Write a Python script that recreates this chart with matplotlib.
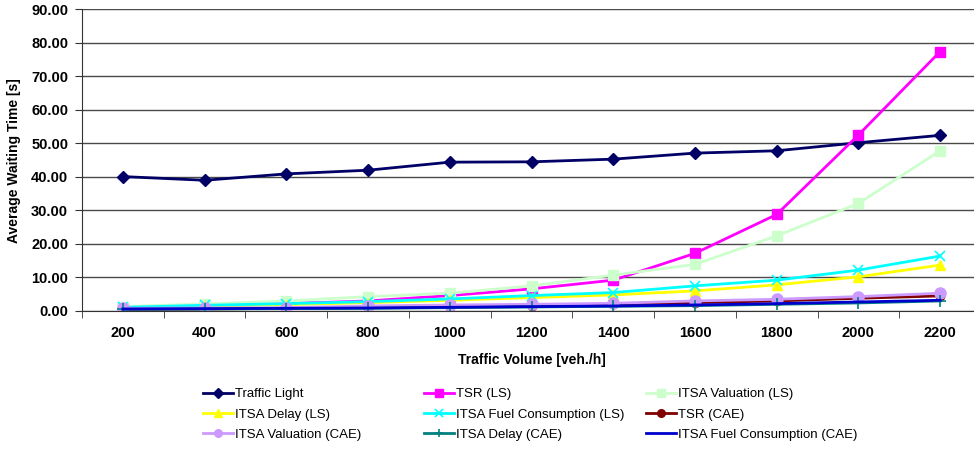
import numpy as np
import matplotlib.pyplot as plt

plt.rcParams['font.family'] = ['Liberation Sans', 'DejaVu Sans']

# traffic volumes on the category axis
volumes = ['200', '400', '600', '800', '1000', '1200', '1400', '1600', '1800', '2000', '2200']

# average waiting time [s] per strategy
traffic_light = [40.1, 39.0, 40.9, 42.0, 44.4, 44.5, 45.3, 47.1, 47.8, 50.2, 52.4]
tsr_ls = [1.0, 1.5, 2.2, 3.0, 4.6, 6.6, 9.2, 17.2, 28.8, 52.5, 77.4]
itsa_val_ls = [1.3, 2.1, 3.0, 4.3, 5.3, 7.5, 10.7, 13.9, 22.4, 32.1, 47.8]
itsa_delay_ls = [0.9, 1.4, 1.9, 2.5, 3.2, 4.0, 4.8, 6.0, 7.8, 10.2, 13.7]
itsa_fuel_ls = [1.1, 1.7, 2.2, 2.8, 3.6, 4.6, 5.5, 7.5, 9.2, 12.2, 16.4]
tsr_cae = [0.5, 0.6, 0.8, 1.0, 1.3, 1.6, 2.0, 2.5, 3.0, 3.8, 4.5]
itsa_val_cae = [0.8, 0.9, 1.0, 1.5, 1.8, 2.0, 2.3, 3.0, 3.5, 4.3, 5.3]
itsa_delay_cae = [0.5, 0.6, 0.7, 0.8, 1.0, 1.2, 1.4, 1.6, 2.0, 2.4, 3.0]
itsa_fuel_cae = [0.6, 0.7, 0.8, 0.9, 1.1, 1.3, 1.5, 1.8, 2.2, 2.7, 3.2]

fig = plt.figure(figsize=(9.74, 4.49), dpi=100)
ax = fig.add_axes([82/974, 138/449, 899/974, 301.7/449])

x = np.arange(len(volumes))

series = [
    ('Traffic Light', traffic_light, '#000066', 'D', 6, 2.0),
    ('TSR (LS)', tsr_ls, '#ff00ff', 's', 7, 2.0),
    ('ITSA Valuation (LS)', itsa_val_ls, '#ccffcc', 's', 7, 2.0),
    ('ITSA Delay (LS)', itsa_delay_ls, '#ffff00', '^', 7, 2.0),
    ('ITSA Fuel Consumption (LS)', itsa_fuel_ls, '#00ffff', 'x', 7, 2.0),
    ('TSR (CAE)', tsr_cae, '#800000', 'o', 6, 2.0),
    ('ITSA Valuation (CAE)', itsa_val_cae, '#cc99ff', 'o', 8, 2.0),
    ('ITSA Delay (CAE)', itsa_delay_cae, '#008080', '+', 8, 2.0),
    ('ITSA Fuel Consumption (CAE)', itsa_fuel_cae, '#0000cc', None, 0, 2.0),
]

handles = {}
for name, vals, col, mk, ms, lw in series:
    h, = ax.plot(x, vals, color=col, marker=mk, markersize=ms, linewidth=lw,
                 markeredgecolor=col, markerfacecolor=col, label=name,
                 markeredgewidth=1.2 if mk in ('x', '+') else 1.0)
    handles[name] = h

ax.set_xlim(-0.5, len(volumes) - 0.5)
ax.set_ylim(0, 90)
ax.set_yticks(np.arange(0, 91, 10))
ax.set_yticklabels([f'{v:.2f}' for v in np.arange(0, 91, 10)])
ax.set_xticks(x)
ax.set_xticklabels(volumes)
ax.set_xticks(np.arange(-0.5, len(volumes), 1), minor=True)
ax.tick_params(axis='x', which='major', length=0, pad=11)
ax.tick_params(axis='x', which='minor', length=5, direction='out', color='#333333')
ax.tick_params(axis='y', length=5, direction='out', color='#333333', pad=5)
for lab in ax.get_xticklabels() + ax.get_yticklabels():
    lab.set_fontsize(10.5)
    lab.set_fontweight('bold')

ax.grid(axis='y', color='#4a4a4a', linewidth=1.0)
ax.set_axisbelow(True)
for side in ('top', 'right'):
    ax.spines[side].set_visible(False)
ax.spines['left'].set_color('#333333')
ax.spines['bottom'].set_color('#333333')

ax.set_ylabel('Average Waiting Time [s]', fontsize=10, fontweight='bold', labelpad=7)
ax.set_xlabel('Traffic Volume [veh./h]', fontsize=10, fontweight='bold', labelpad=9)

# legend: three columns, each its own legend so the column positions are fixed
columns = [
    (203, ['Traffic Light', 'ITSA Delay (LS)', 'ITSA Valuation (CAE)']),
    (424, ['TSR (LS)', 'ITSA Fuel Consumption (LS)', 'ITSA Delay (CAE)']),
    (646, ['ITSA Valuation (LS)', 'TSR (CAE)', 'ITSA Fuel Consumption (CAE)']),
]
for left, names in columns:
    leg = fig.legend([handles[n] for n in names], names,
                     loc='upper left', bbox_to_anchor=(left/974, 1 - 388/449),
                     frameon=False, fontsize=9.5, handlelength=2.25,
                     handletextpad=0.2, labelspacing=0.62,
                     borderpad=0, borderaxespad=0)
    for h in leg.legend_handles:
        h.set_markersize(5.5)

fig.savefig('out.png', dpi=100)
